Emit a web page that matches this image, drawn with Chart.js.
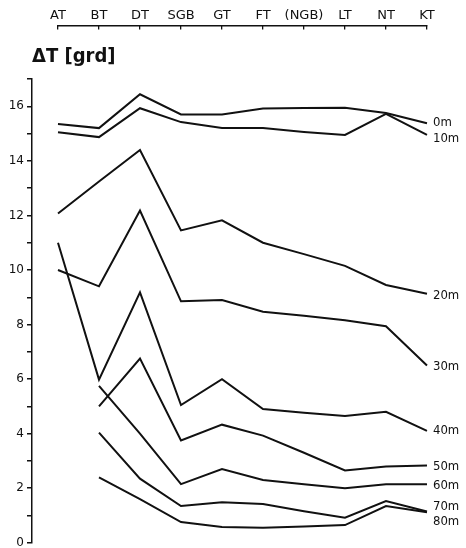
<!DOCTYPE html>
<html><head><meta charset="utf-8">
<script src="https://cdn.jsdelivr.net/npm/chart.js@4"></script>
<style>
html,body{margin:0;padding:0;background:#fff;overflow:hidden;width:466px;height:548px}
#wrap{position:relative;width:466px;height:548px;overflow:hidden}
canvas{position:absolute;left:0;top:0}
#title{position:absolute;left:32px;top:45px;font:bold 20px "DejaVu Sans Condensed","DejaVu Sans",sans-serif;line-height:20px;color:#111;white-space:nowrap}
</style></head><body>
<div id="wrap">
<canvas id="main" width="466" height="553"></canvas>
<canvas id="top" width="466" height="80"></canvas>
<div id="title">ΔT [grd]</div>
</div>
<script>
// ---- data ----
const categories = ['AT', 'BT', 'DT', 'SGB', 'GT', 'FT', '(NGB)', 'LT', 'NT', 'KT'];
const depthLabels = ['0m', '10m', '20m', '30m', '40m', '50m', '60m', '70m', '80m'];
const t0  = [15.35, 15.2, 16.44, 15.7, 15.7, 15.92, 15.94, 15.95, 15.75, 15.38];
const t10 = [15.05, 14.87, 15.93, 15.42, 15.2, 15.2, 15.06, 14.95, 15.72, 14.95];
const t20 = [12.07, 13.24, 14.4, 11.45, 11.82, 11.0, 10.58, 10.15, 9.45, 9.13];
const t30 = [10.0, 9.4, 12.18, 8.85, 8.9, 8.47, 8.32, 8.16, 7.94, 6.5];
const t40 = [11.0, 5.98, 9.18, 5.05, 6.0, 4.9, 4.77, 4.65, 4.8, 4.1];
const t50 = [null, 5.0, 6.75, 3.75, 4.33, 3.93, 3.3, 2.65, 2.8, 2.83];
const t60 = [null, 5.75, 4.0, 2.15, 2.7, 2.3, 2.15, 2.0, 2.15, 2.15];
const t70 = [null, 4.04, 2.35, 1.35, 1.49, 1.42, 1.16, 0.92, 1.53, 1.15];
const t80 = [null, 2.4, 1.6, 0.76, 0.58, 0.55, 0.6, 0.65, 1.35, 1.12];
const yMin = 0, yMax = 17;

// ---- styling ----
const ink = '#111';
const labelNudge = [-1, 4, 2, 1, 0, 1, 1, -5, 9];
Chart.defaults.font.family = '"DejaVu Sans", sans-serif';
Chart.defaults.color = ink;

const series = [t0, t10, t20, t30, t40, t50, t60, t70, t80];
const datasets = series.map((vals, i) => ({
  label: depthLabels[i],
  data: vals.map((v, j) => (v === null ? null : { x: j, y: v })).filter(p => p),
  borderColor: ink,
  borderWidth: 2,
  pointRadius: 0,
  tension: 0,
  fill: false
}));

const endLabels = {
  id: 'endLabels',
  afterDatasetsDraw(chart) {
    const ctx = chart.ctx;
    ctx.save();
    ctx.font = '13px "DejaVu Sans Condensed", "DejaVu Sans", sans-serif';
    ctx.fillStyle = ink;
    ctx.textBaseline = 'middle';
    ctx.textAlign = 'left';
    chart.data.datasets.forEach((ds, i) => {
      const meta = chart.getDatasetMeta(i);
      const pt = meta.data[meta.data.length - 1];
      ctx.fillText(ds.label, pt.x + 6, pt.y + labelNudge[i]);
    });
    ctx.restore();
  }
};

new Chart(document.getElementById('main'), {
  type: 'line',
  data: { datasets },
  plugins: [endLabels],
  options: {
    responsive: false,
    animation: false,
    events: [],
    layout: { padding: { top: 79, left: 9, right: 30, bottom: 0 } },
    plugins: { legend: { display: false }, tooltip: { enabled: false } },
    scales: {
      x: { type: 'linear', display: false, min: -0.634, max: 9.22 },
      y: {
        min: yMin, max: yMax,
        afterFit(scale) { scale.width = 23; },
        ticks: {
          stepSize: 1, autoSkip: false, padding: 3, color: ink,
          font: { size: 12 },
          callback: v => (v % 2 === 0 ? String(v) : '')
        },
        grid: { drawOnChartArea: false, drawTicks: true, tickLength: 5, color: ink, lineWidth: 1.5 },
        border: { display: true, color: ink, width: 1.5 }
      }
    }
  }
});

new Chart(document.getElementById('top'), {
  type: 'line',
  data: { labels: categories, datasets: [] },
  options: {
    responsive: false,
    animation: false,
    events: [],
    layout: { padding: { top: 0.9, left: 58, right: 39, bottom: 0 } },
    plugins: { legend: { display: false }, tooltip: { enabled: false } },
    scales: {
      x: {
        type: 'category', position: 'top', offset: false,
        ticks: { padding: 6.5, color: ink, font: { size: 13 }, autoSkip: false, maxRotation: 0 },
        grid: { drawOnChartArea: false, drawTicks: true, tickLength: -4, color: ink, lineWidth: 1.3 },
        border: { display: true, color: ink, width: 1.5 }
      },
      y: { display: false }
    }
  }
});
</script>
</body></html>
